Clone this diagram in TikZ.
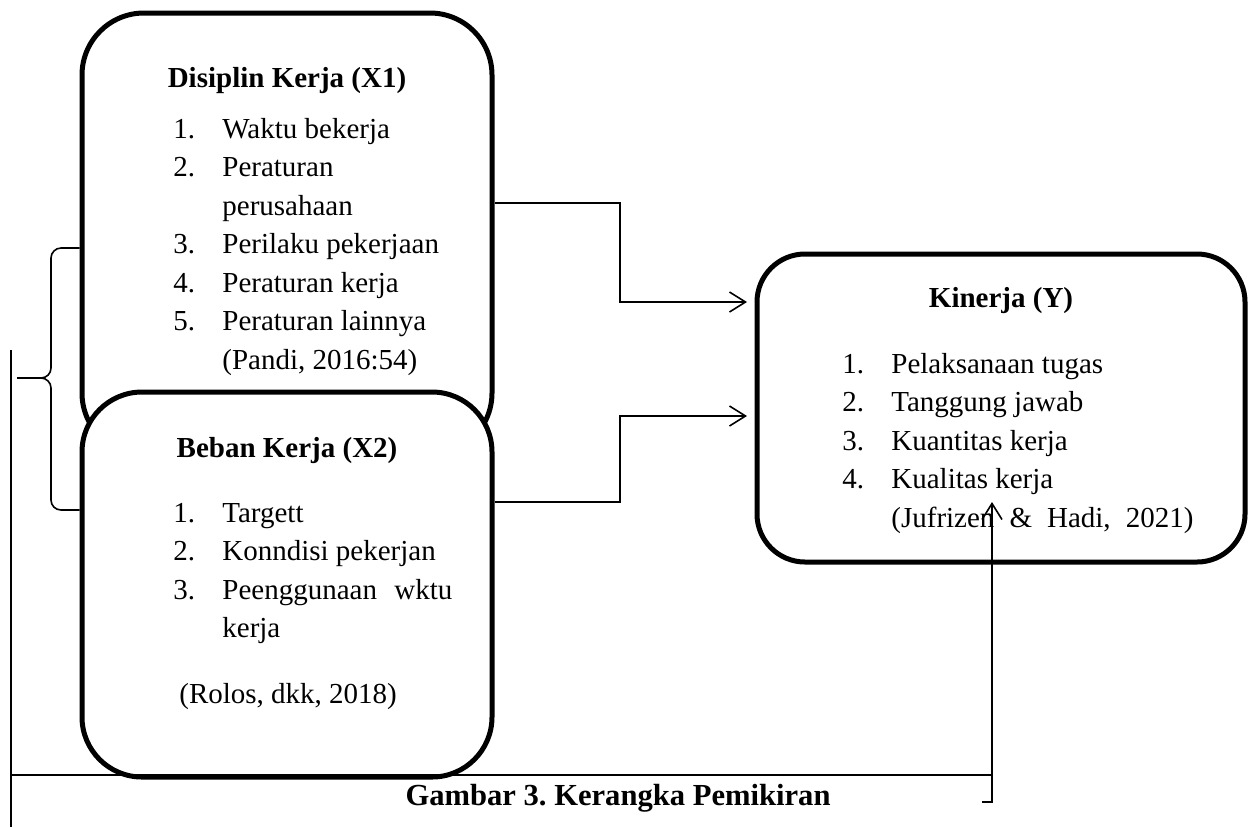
\documentclass[tikz,border=0pt]{standalone}
\usepackage{fontspec}
\setmainfont{Liberation Serif}
\usepackage{tikz}
\usetikzlibrary{
  positioning,
  arrows.meta}
\newcommand{\nitem}[2]{\makebox[24.5pt][l]{#1}#2}
\frenchspacing

\begin{document}
\begin{tikzpicture}[x=0.5pt,y=-0.5pt]
\tikzset{
  varbox/.style={draw, line width=2.5pt, fill=white, inner sep=0pt},
  conn/.style={line width=0.8pt},
  arr/.style={conn, -{Straight Barb[length=8pt,width=10pt,line width=0.8pt]}},
  head/.style={inner sep=0pt, anchor=base, font=\fontsize{14.5pt}{19.25pt}\selectfont\bfseries},
  list/.style={inner sep=0pt, anchor=north west, align=left, font=\fontsize{14.5pt}{19.25pt}\selectfont},
}
\useasboundingbox (0,0) rectangle (1251,827);
\node[varbox, rounded corners=31pt, minimum width=205pt, minimum height=221pt] (x1) at (287,234) {};
\node[varbox, rounded corners=30pt, minimum width=205pt, minimum height=192.5pt] (x2) at (287,584.5) {};
\node[varbox, rounded corners=24pt, minimum width=244pt, minimum height=154pt] (kin) at (1001,408) {};
\node[head] (x1h) at (287,87) {Disiplin Kerja (X1)};
\node[list] (x1l) at (173,111) {\strut\nitem{1.}{Waktu bekerja}\\
  \nitem{2.}{Peraturan}\\
  \nitem{}{perusahaan}\\
  \nitem{3.}{Perilaku pekerjaan}\\
  \nitem{4.}{Peraturan kerja}\\
  \nitem{5.}{Peraturan lainnya}\\
  \nitem{}{(Pandi, 2016:54)}};
\node[head] (x2h) at (287,457) {Beban Kerja (X2)};
\node[list] (x2l) at (173,495) {\strut\nitem{1.}{Targett}\\
  \nitem{2.}{Konndisi pekerjan}\\
  \nitem{3.}{\makebox[115pt][s]{Peenggunaan wktu}}\\
  \nitem{}{kerja}};
\node[list] (x2s) at (179,676) {\strut(Rolos, dkk, 2018)};
\node[head] (kinh) at (1001,307) {Kinerja (Y)};
\node[list] (kinl) at (842,346) {\strut\nitem{1.}{Pelaksanaan tugas}\\
  \nitem{2.}{Tanggung jawab}\\
  \nitem{3.}{Kuantitas kerja}\\
  \nitem{4.}{Kualitas kerja}\\
  \nitem{}{\makebox[151pt][s]{(Jufrizen \& Hadi, 2021)}}};
\node[head, font=\fontsize{15.3pt}{18pt}\selectfont\bfseries] (cap) at (618,805) {Gambar 3. Kerangka Pemikiran};
% links to Y
\coordinate (k1) at (620,203);
\coordinate (k2) at (620,502);
\coordinate (t1) at (747,302);
\coordinate (t2) at (747,416);
\draw[arr] (x1.east |- k1) -- (k1) |- (t1);
\draw[arr] (x2.east |- k2) -- (k2) |- (t2);
% brace
\coordinate (bt) at (51,248);
\coordinate (bb) at (51,510);
\coordinate (bm) at (17,378);
\draw[conn, rounded corners=5pt] (bm) -- (bm -| bt) -- (bt) -- (x1.west |- bt);
\draw[conn, rounded corners=5pt] (bm) -- (bm -| bb) -- (bb) -- (x2.west |- bb);
% frame line
\coordinate (f1) at (11,350);
\coordinate (f2) at (11,827);
\coordinate (f3) at (11,775);
\coordinate (f4) at (992,775);
\coordinate (f5) at (982,802);
\coordinate (t3) at (992,502);
\draw[conn] (f1) -- (f2);
\draw[conn] (f3) -- (f4);
\draw[arr] (f5) -- (f5 -| f4) -- (t3);
\end{tikzpicture}
\end{document}
